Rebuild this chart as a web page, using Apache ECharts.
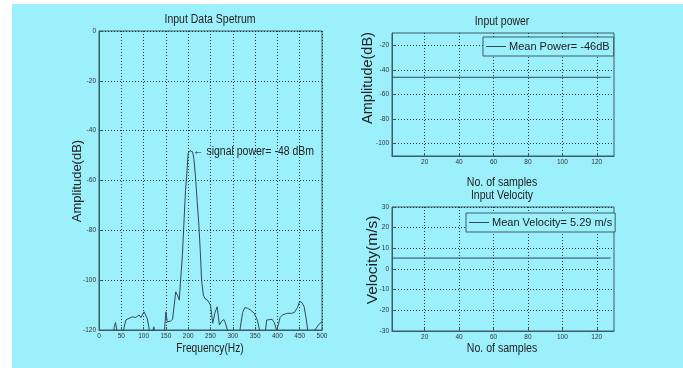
<!DOCTYPE html>
<html>
<head>
<meta charset="utf-8">
<style>
html,body{margin:0;padding:0;background:#ffffff;}
#c{width:683px;height:368px;}
</style>
<script src="https://cdn.jsdelivr.net/npm/echarts@6/dist/echarts.min.js"></script>
</head>
<body>
<div id="c"></div>
<script>
// Spectrum (Hz, dB); values below -120 are clipped by the axis
const specFreq = [0,30,34,37,41,48,55,60,64,75,82,90,94,101,108,113,116,120,123,126,140,147,150,153,157,160,165,172,176,180,183,187,191,194,197,200,204,210,213,217,220,224,227,230,234,238,243,247,250,255,260,265,270,275,280,283,288,292,300,310,316,322,327,333,340,348,355,360,365,372,376,380,388,393,398,402,406,411,418,423,432,438,445,450,455,460,465,468,472,478,484,492,500];
const specAmp  = [-130,-125,-119,-117,-121,-126,-120,-116,-115.3,-114.7,-115,-114,-115,-112.7,-115.3,-120,-124,-121,-118.7,-122,-126,-120,-112.7,-116.7,-117,-116.5,-115.7,-104.7,-106,-108,-100,-90,-75,-64,-57,-49,-48,-48.5,-51.6,-60,-68,-78,-88,-100,-106,-107.5,-108,-108.7,-110,-117.3,-113,-110.7,-118,-116.5,-115.8,-117,-120,-124,-128,-124,-120,-113,-111,-111.3,-112,-113.3,-116,-120,-125,-122,-116,-115.3,-115.7,-117,-120,-118,-115,-114,-113.5,-113.3,-113.3,-113,-111,-108.5,-109,-110.7,-116,-120,-124,-121,-120,-118,-116.5];

const powerSamples = [1, 128];
const powerValues = [-46, -46];
const velSamples = [1, 128];
const velValues = [5.29, 5.29];

const specXTicks = [0,50,100,150,200,250,300,350,400,450,500];
const specYTicks = [-120,-100,-80,-60,-40,-20,0];
const sampleTicks = [20,40,60,80,100,120];
const powerTicks = [-100,-80,-60,-40,-20];
const velTicks = [-30,-20,-10,0,10,20,30];

const titles = ['Input Data Spetrum','Input power','Input Velocity'];
const xNames = ['Frequency(Hz)','No. of samples','No. of samples'];
const yNames = ['Amplitude(dB)','Amplitude(dB)','Velocity(m/s)'];
const powerName = 'Mean Power= -46dB';
const velName = 'Mean Velocity= 5.29 m/s';
const peakNote = '\u2190 signal power= -48 dBm';
const peakPoint = [204, -48];

const SANS = '"Liberation Sans",Arial,sans-serif';
const BG = '#9cf0fb';
const AX = '#3b5d68';
const GRID = '#2c3c42';
const LINE = '#2e4b56';
const TXT = '#222';

function zip(a,b){return a.map((v,i)=>[v,b[i]]);}

function valAxis(idx, min, max, ticks, pos){
  return {
    type:'value', gridIndex:idx, min:min, max:max, position:pos,
    axisLine:{show:true,onZero:false,lineStyle:{color:AX,width:1}},
    axisTick:{show:true,inside:true,length:3,customValues:ticks,lineStyle:{color:AX}},
    axisLabel:{show:true,customValues:ticks,fontFamily:SANS,fontSize:6.5,color:'#333',margin:3},
    splitLine:{show:true,lineStyle:{color:GRID,type:[1,2],width:1}}
  };
}
function hText(t, x, y, size, sx){
  return {type:'text', z:10, silent:true, x:x, y:y, scaleX:sx,
    style:{text:t, font:size+'px '+SANS, fill:TXT, align:'center', verticalAlign:'middle'}};
}
function vText(t, x, y, size){
  return {type:'text', z:10, silent:true, x:x, y:y, rotation:Math.PI/2,
    style:{text:t, font:size+'px '+SANS, fill:TXT, align:'center', verticalAlign:'middle'}};
}

const chart = echarts.init(document.getElementById('c'), null, {renderer:'canvas'});
const baseGraphics = [
  {type:'rect', z:-100, silent:true, shape:{x:12,y:4,width:671,height:364}, style:{fill:BG}},
  hText(titles[0], 210, 20, 12.5, 0.84),
  hText(titles[1], 502, 22, 12, 0.87),
  hText(titles[2], 502, 196, 12, 0.87),
  hText(xNames[0], 210, 349, 12, 0.85),
  hText(xNames[1], 502, 183, 12, 0.88),
  hText(xNames[2], 502, 349, 12, 0.88),
  vText(yNames[0], 77, 181, 13),
  vText(yNames[1], 368, 78, 14.5),
  vText(yNames[2], 373, 260, 15.5)
];
chart.setOption({
  animation:false,
  backgroundColor:'#ffffff',
  graphic:baseGraphics,
  grid:[
    {left:99, top:31, width:223, height:299, show:true, borderColor:AX, borderWidth:1, backgroundColor:'transparent'},
    {left:392, top:33, width:222, height:123, show:true, borderColor:AX, borderWidth:1, backgroundColor:'transparent'},
    {left:392, top:207, width:222, height:124, show:true, borderColor:AX, borderWidth:1, backgroundColor:'transparent'}
  ],
  legend:[
    {data:[{name:powerName, icon:'rect'}], left:483, top:37, orient:'horizontal', padding:[4,4,4,3], itemWidth:20, itemHeight:1, itemGap:4,
     borderColor:AX, borderWidth:1, backgroundColor:BG, textStyle:{fontFamily:SANS,fontSize:11,color:TXT,padding:[0,0,0,-2]}},
    {data:[{name:velName, icon:'rect'}], left:466, top:213, orient:'horizontal', padding:[4,3,4,3], itemWidth:20, itemHeight:1, itemGap:4,
     borderColor:AX, borderWidth:1, backgroundColor:BG, textStyle:{fontFamily:SANS,fontSize:11,color:TXT,padding:[0,0,0,-2]}}
  ],
  xAxis:[
    valAxis(0, 0, 500, specXTicks, 'bottom'),
    valAxis(1, 1, 130, sampleTicks, 'bottom'),
    valAxis(2, 1, 130, sampleTicks, 'bottom')
  ],
  yAxis:[
    valAxis(0, -120, 0, specYTicks, 'left'),
    valAxis(1, -110, -10, powerTicks, 'left'),
    valAxis(2, -30, 30, velTicks, 'left')
  ],
  series:[
    {type:'line', name:'spectrum', xAxisIndex:0, yAxisIndex:0, data:zip(specFreq,specAmp), symbol:'none', clip:true,
     lineStyle:{color:LINE,width:1}, itemStyle:{color:LINE}},
    {type:'line', name:powerName, xAxisIndex:1, yAxisIndex:1, data:zip(powerSamples,powerValues), symbol:'none',
     lineStyle:{color:LINE,width:1}, itemStyle:{color:LINE}},
    {type:'line', name:velName, xAxisIndex:2, yAxisIndex:2, data:zip(velSamples,velValues), symbol:'none',
     lineStyle:{color:LINE,width:1}, itemStyle:{color:LINE}}
  ]
});
// annotation anchored to the peak through the chart's own scale
const pk = chart.convertToPixel({gridIndex:0}, peakPoint);
const note = {type:'text', z:10, silent:true, x:pk[0]+3, y:pk[1]+1, scaleX:0.84,
  style:{text:peakNote, font:'12.5px '+SANS, fill:TXT, align:'left', verticalAlign:'middle'}};
chart.setOption({graphic: baseGraphics.concat([note])});
</script>
</body>
</html>
